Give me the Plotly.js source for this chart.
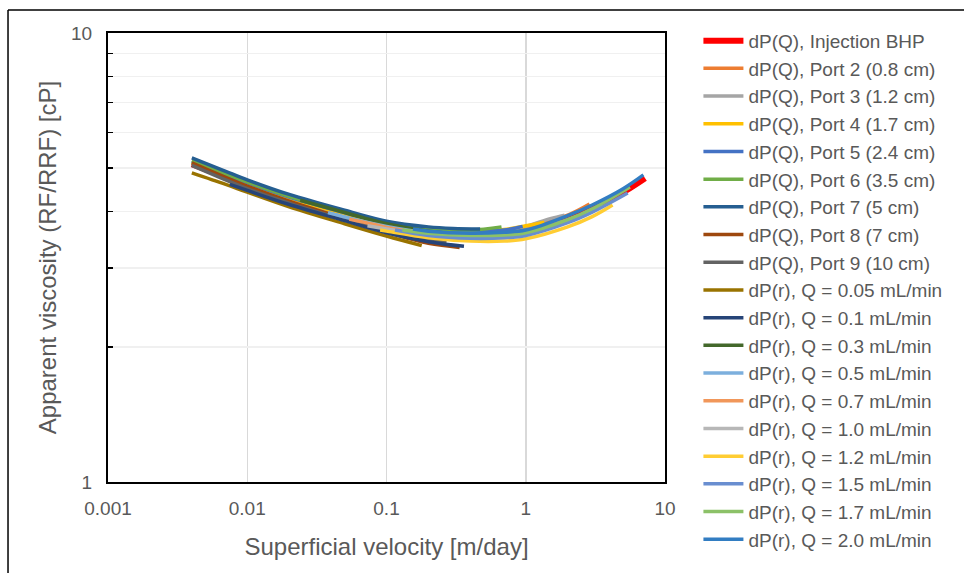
<!DOCTYPE html>
<html>
<head>
<meta charset="utf-8">
<script src="https://cdn.plot.ly/plotly-3.0.1.min.js"></script>
<style>
  html, body { margin: 0; padding: 0; background: #ffffff; }
  #chart { width: 964px; height: 573px; }
</style>
</head>
<body>
<div id="chart"></div>
<script>
// ---- Data ----
const seriesNames = [
  "dP(Q), Injection BHP",
  "dP(Q), Port 2 (0.8 cm)",
  "dP(Q), Port 3 (1.2 cm)",
  "dP(Q), Port 4 (1.7 cm)",
  "dP(Q), Port 5 (2.4 cm)",
  "dP(Q), Port 6 (3.5 cm)",
  "dP(Q), Port 7 (5 cm)",
  "dP(Q), Port 8 (7 cm)",
  "dP(Q), Port 9 (10 cm)",
  "dP(r), Q = 0.05 mL/min",
  "dP(r), Q = 0.1 mL/min",
  "dP(r), Q = 0.3 mL/min",
  "dP(r), Q = 0.5 mL/min",
  "dP(r), Q = 0.7 mL/min",
  "dP(r), Q = 1.0 mL/min",
  "dP(r), Q = 1.2 mL/min",
  "dP(r), Q = 1.5 mL/min",
  "dP(r), Q = 1.7 mL/min",
  "dP(r), Q = 2.0 mL/min"
];

const xInj   = [0.004, 0.007, 0.01, 0.02, 0.05, 0.1, 0.2, 0.4, 0.7, 1, 2, 3, 5, 7.2];
const yInj   = [5.10, 4.78, 4.58, 4.25, 3.93, 3.71, 3.57, 3.52, 3.56, 3.63, 3.88, 4.08, 4.42, 4.75];

const xPort2 = [0.004, 0.01, 0.02, 0.05, 0.1, 0.2, 0.4, 0.7, 1, 2, 2.87];
const yPort2 = [5.13, 4.60, 4.27, 3.95, 3.73, 3.60, 3.56, 3.61, 3.69, 3.93, 4.16];

const xPort3 = [0.004, 0.01, 0.02, 0.05, 0.1, 0.2, 0.4, 0.7, 1, 1.5, 1.9];
const yPort3 = [5.12, 4.59, 4.26, 3.94, 3.73, 3.61, 3.57, 3.63, 3.71, 3.86, 3.93];

const xPort4 = [0.004, 0.01, 0.02, 0.05, 0.1, 0.2, 0.4, 0.7, 1, 1.36];
const yPort4 = [5.15, 4.61, 4.28, 3.96, 3.75, 3.63, 3.60, 3.65, 3.72, 3.79];

const xPort5 = [0.004, 0.01, 0.02, 0.05, 0.1, 0.2, 0.4, 0.7, 0.95];
const yPort5 = [5.18, 4.64, 4.31, 3.98, 3.77, 3.66, 3.62, 3.64, 3.71];

const xPort6 = [0.004, 0.01, 0.02, 0.05, 0.1, 0.2, 0.4, 0.67];
const yPort6 = [5.20, 4.66, 4.33, 4.00, 3.79, 3.68, 3.64, 3.70];

const xPort7 = [0.004, 0.007, 0.01, 0.02, 0.05, 0.1, 0.2, 0.3, 0.47];
const yPort7 = [5.27, 4.92, 4.71, 4.37, 4.03, 3.81, 3.70, 3.67, 3.66];

const xPort8 = [0.004, 0.01, 0.02, 0.05, 0.1, 0.2, 0.335];
const yPort8 = [5.14, 4.56, 4.22, 3.86, 3.60, 3.40, 3.33];

const xPort9 = [0.004, 0.01, 0.02, 0.05, 0.1, 0.2, 0.27];
const yPort9 = [5.07, 4.50, 4.18, 3.84, 3.62, 3.47, 3.43];

const xQ005 = [0.004, 0.007, 0.01, 0.02, 0.05, 0.1, 0.179];
const yQ005 = [4.88, 4.60, 4.42, 4.10, 3.76, 3.53, 3.36];

const xQ01 = [0.0075, 0.01, 0.02, 0.05, 0.1, 0.2, 0.36];
const yQ01 = [4.60, 4.46, 4.15, 3.82, 3.59, 3.43, 3.35];

const xQ03 = [0.024, 0.04, 0.1, 0.2, 0.4, 0.7, 1.08];
const yQ03 = [4.24, 4.06, 3.76, 3.62, 3.56, 3.58, 3.64];

const xQ05 = [0.038, 0.06, 0.1, 0.2, 0.4, 0.7, 1, 1.8];
const yQ05 = [3.98, 3.84, 3.71, 3.59, 3.53, 3.55, 3.61, 3.80];

const xQ07 = [0.054, 0.08, 0.1, 0.2, 0.4, 0.7, 1, 2.5];
const yQ07 = [3.85, 3.75, 3.69, 3.57, 3.51, 3.53, 3.59, 3.93];

const xQ10 = [0.073, 0.1, 0.2, 0.4, 0.7, 1, 2, 3.6];
const yQ10 = [3.72, 3.66, 3.54, 3.49, 3.51, 3.57, 3.80, 4.15];

const xQ12 = [0.09, 0.1, 0.2, 0.4, 0.7, 1, 2, 3, 4.2];
const yQ12 = [3.64, 3.62, 3.50, 3.44, 3.44, 3.48, 3.70, 3.90, 4.14];

const xQ15 = [0.115, 0.2, 0.4, 0.7, 1, 2, 3, 5.4];
const yQ15 = [3.64, 3.54, 3.49, 3.50, 3.54, 3.78, 3.99, 4.40];

const xQ17 = [0.13, 0.2, 0.4, 0.7, 1, 2, 3, 5.6];
const yQ17 = [3.64, 3.58, 3.54, 3.55, 3.59, 3.84, 4.06, 4.54];

const xQ20 = [0.155, 0.2, 0.4, 0.7, 1, 2, 3, 5, 7.0];
const yQ20 = [3.66, 3.62, 3.58, 3.60, 3.64, 3.92, 4.14, 4.50, 4.83];

const xTickVals = [0.001, 0.01, 0.1, 1, 10];
const xTickText = ["0.001", "0.01", "0.1", "1", "10"];
const yTickVals = [1, 2, 3, 4, 5, 6, 7, 8, 9, 10];
const yTickText = ["1", "", "", "", "", "", "", "", "", "10"];

// ---- Styles ----
const seriesColors = [
  "#FF0000", "#ED7D31", "#A5A5A5", "#FFC000", "#4472C4", "#70AD47", "#255E91", "#9E480E", "#636363",
  "#997300", "#264478", "#43682B", "#7CAFDD", "#F1975A", "#B7B7B7", "#FFCD33", "#698ED0", "#8CC168", "#327DC2"
];
const seriesWidths = [6, 3.5, 3.5, 3.5, 3.5, 3.5, 3.5, 3.5, 3.5, 3.5, 3.5, 3.5, 3.5, 3.5, 3.5, 3.5, 3.5, 3.5, 3.5];

const xs = [xInj, xPort2, xPort3, xPort4, xPort5, xPort6, xPort7, xPort8, xPort9,
            xQ005, xQ01, xQ03, xQ05, xQ07, xQ10, xQ12, xQ15, xQ17, xQ20];
const ys = [yInj, yPort2, yPort3, yPort4, yPort5, yPort6, yPort7, yPort8, yPort9,
            yQ005, yQ01, yQ03, yQ05, yQ07, yQ10, yQ12, yQ15, yQ17, yQ20];

const FONT = "Liberation Sans, Arial, sans-serif";
const TXT = "#595959";

const traces = seriesNames.map((name, i) => ({
  type: "scatter",
  mode: "lines",
  name: name,
  x: xs[i],
  y: ys[i],
  line: { color: seriesColors[i], width: seriesWidths[i], shape: "spline", smoothing: 1 },
  hoverinfo: "name+x+y"
}));

const layout = {
  width: 964,
  height: 573,
  margin: { l: 108, r: 299, t: 33, b: 91, pad: 0 },
  paper_bgcolor: "#ffffff",
  plot_bgcolor: "#ffffff",
  showlegend: true,
  font: { family: FONT, color: TXT, size: 18 },
  xaxis: {
    type: "log",
    range: [-3, 1],
    tickvals: xTickVals,
    ticktext: xTickText,
    ticks: "",
    showgrid: true,
    gridcolor: "#D9D9D9",
    gridwidth: 1.5,
    zeroline: false,
    showline: true,
    linecolor: "#000000",
    linewidth: 2,
    mirror: true,
    tickfont: { family: FONT, size: 19, color: TXT },
    ticklabelstandoff: 8,
    title: { text: "Superficial velocity [m/day]", font: { family: FONT, size: 24, color: TXT }, standoff: 20 }
  },
  yaxis: {
    type: "log",
    range: [0, 1],
    tickvals: yTickVals,
    ticktext: yTickText,
    ticks: "inside",
    ticklen: 5,
    tickwidth: 1.5,
    tickcolor: "#000000",
    showgrid: true,
    gridcolor: "#F0F0F0",
    gridwidth: 1.5,
    zeroline: false,
    showline: true,
    linecolor: "#000000",
    linewidth: 2,
    mirror: true,
    tickfont: { family: FONT, size: 19, color: TXT },
    ticklabelstandoff: 10,
    title: { text: "Apparent viscosity (RF/RRF) [cP]", font: { family: FONT, size: 24, color: TXT }, standoff: 8 }
  },
  legend: {
    x: 1.06,
    y: 1.025,
    xanchor: "left",
    yanchor: "top",
    bgcolor: "rgba(0,0,0,0)",
    borderwidth: 0,
    font: { family: FONT, size: 19, color: TXT },
    itemwidth: 40,
    tracegroupgap: 0,
    traceorder: "normal",
    maxheight: 700
  },
  shapes: [
    { type: "line", xref: "paper", yref: "paper", x0: -0.1795, x1: -0.1795, y0: 1.0512, y1: -0.3,
      line: { color: "#000000", width: 1.5 } },
    { type: "line", xref: "paper", yref: "paper", x0: -0.1795, x1: 1.7, y0: 1.0512, y1: 1.0512,
      line: { color: "#000000", width: 1.5 } }
  ]
};

Plotly.newPlot("chart", traces, layout, { staticPlot: true, displayModeBar: false });
</script>
</body>
</html>
